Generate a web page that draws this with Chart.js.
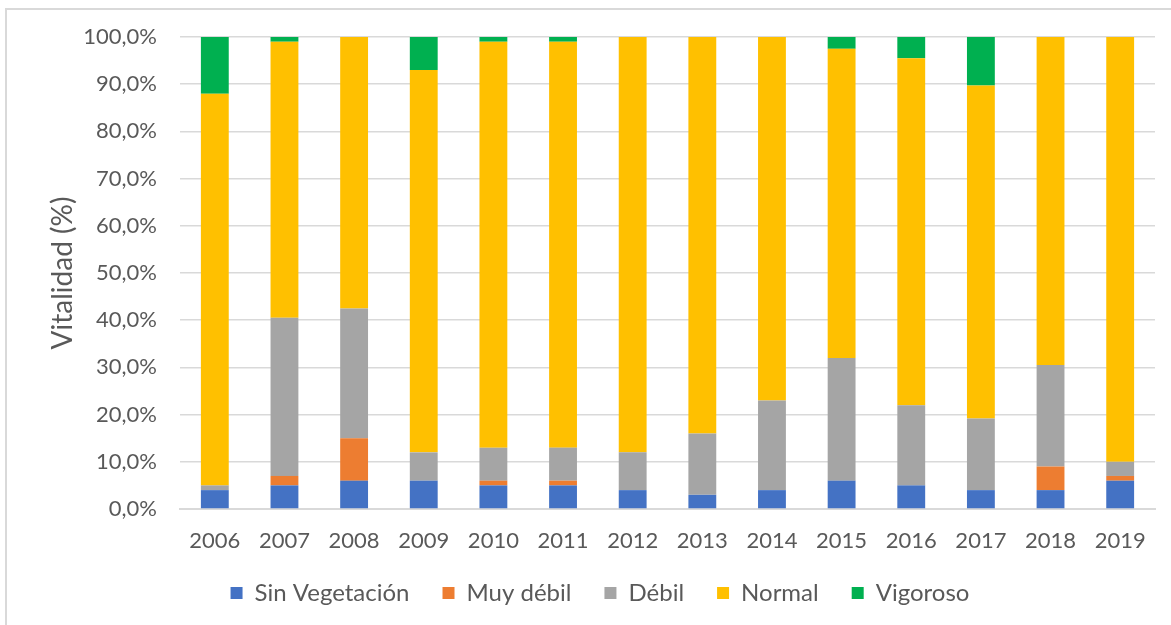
<!DOCTYPE html>
<html>
<head>
<meta charset="utf-8">
<script src="https://cdn.jsdelivr.net/npm/chart.js@4.4.1/dist/chart.umd.min.js"></script>
<style>
    body { margin: 0; background: #fff; }
    #wrap { position: relative; width: 1171px; height: 625px; overflow: hidden; }
    #marco { position: absolute; left: 5px; top: 8px; right: -4px; bottom: -4px; border: 2px solid #d9d9d9; }
    #myChart { position: absolute; left: 0; top: 0; }
</style>
</head>
<body>
<div id="wrap">
    <div id="marco"></div>
    <canvas id="myChart" width="1171" height="625"></canvas>
</div>
<script>
// datos (porcentaje de cada clase por año)
const anios = ['2006', '2007', '2008', '2009', '2010', '2011', '2012', '2013', '2014', '2015', '2016', '2017', '2018', '2019'];
const sinVegetacion = [4, 5, 6, 6, 5, 5, 4, 3, 4, 6, 5, 4, 4, 6];
const muyDebil = [0, 2, 9, 0, 1, 1, 0, 0, 0, 0, 0, 0, 5, 1];
const debil = [1, 33.5, 27.5, 6, 7, 7, 8, 13, 19, 26, 17, 15.2, 21.5, 3];
const normal = [83, 58.5, 57.5, 81, 86, 86, 88, 84, 77, 65.5, 73.5, 70.5, 69.5, 90];
const vigoroso = [12, 1, 0, 7, 1, 1, 0, 0, 0, 2.5, 4.5, 10.3, 0, 0];
const ticksY = [0, 10, 20, 30, 40, 50, 60, 70, 80, 90, 100];

(() => {
    const fuente = 'Lato, "Open Sans", sans-serif';
    const gris = '#595959';

    const serie = (label, data, color) => ({
        label: label,
        data: data,
        backgroundColor: color,
        borderWidth: 0,
        barPercentage: 0.4,
        categoryPercentage: 1
    });

    const data = {
        labels: anios,
        datasets: [
            serie('Sin Vegetación', sinVegetacion, '#4472C4'),
            serie('Muy débil', muyDebil, '#ED7D31'),
            serie('Débil', debil, '#A5A5A5'),
            serie('Normal', normal, '#FFC000'),
            serie('Vigoroso', vigoroso, '#00B050')
        ]
    };

    const config = {
        type: 'bar',
        data: data,
        options: {
            responsive: false,
            animation: false,
            layout: {
                padding: { left: 45, right: 16, top: 37, bottom: 10 }
            },
            plugins: {
                tooltip: { enabled: false },
                legend: {
                    position: 'bottom',
                    labels: {
                        boxWidth: 12,
                        boxHeight: 12,
                        padding: 33,
                        color: gris,
                        font: { family: fuente, size: 24 }
                    }
                }
            },
            scales: {
                x: {
                    stacked: true,
                    grid: { display: false, drawTicks: false },
                    border: { color: '#d9d9d9', width: 2 },
                    ticks: {
                        color: gris,
                        padding: 19,
                        font: { family: fuente, size: 22 }
                    },
                    afterFit: (scale) => { scale.height = 39; }
                },
                y: {
                    stacked: true,
                    min: 0,
                    max: 100,
                    afterBuildTicks: (scale) => {
                        scale.ticks = ticksY.map(v => ({ value: v }));
                    },
                    grid: { color: '#d9d9d9', lineWidth: 1.5, drawTicks: false },
                    border: { display: false },
                    ticks: {
                        color: gris,
                        padding: 23,
                        font: { family: fuente, size: 22 },
                        callback: (v) => v.toFixed(1).replace('.', ',') + '%'
                    },
                    title: {
                        display: true,
                        text: 'Vitalidad (%)',
                        color: gris,
                        padding: { top: 1, bottom: 0 },
                        font: { family: fuente, size: 28 }
                    },
                    afterFit: (scale) => { scale.width = 135; }
                }
            }
        }
    };

    const myChart = new Chart(
        document.getElementById('myChart'),
        config
    );
})();
</script>
</body>
</html>
